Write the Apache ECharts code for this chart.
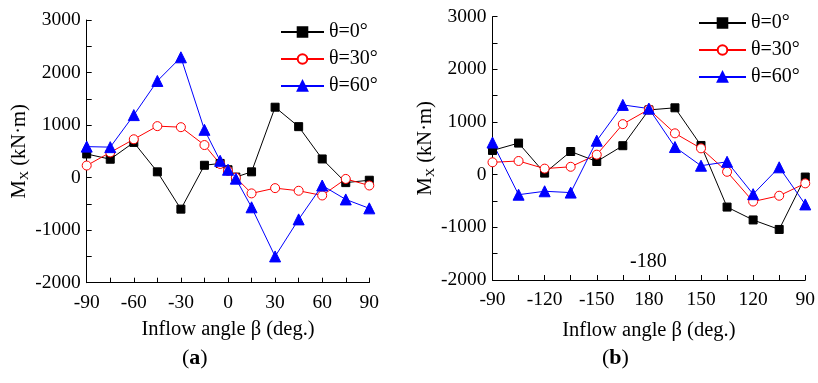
<!DOCTYPE html>
<html>
<head>
<meta charset="utf-8">
<script src="https://cdn.jsdelivr.net/npm/echarts@6/dist/echarts.min.js"></script>
<style>html,body{margin:0;padding:0;background:#fff}#c{width:818px;height:383px}</style>
</head>
<body>
<div id="c"></div>
<script>
// Panel (a)
const betaA = [-90, -75, -60, -45, -30, -15, -5, 0, 5, 15, 30, 45, 60, 75, 90];
const mx0A  = [450, 350, 670, 110, -600, 235, 270, 150, 10, 110, 1340, 970, 355, -95, -50];
const mx30A = [230, 480, 730, 980, 960, 620, 260, 130, 0, -300, -200, -250, -340, -25, -150];
const mx60A = [590, 580, 1190, 1840, 2290, 910, 320, 150, -20, -565, -1500, -795, -150, -415, -585];
const xTicksA = [-90, -60, -30, 0, 30, 60, 90];

// Panel (b)
const betaB = ['-90', '-105', '-120', '-135', '-150', '-165', '180', '165', '150', '135', '120', '105', '90'];
const xTicksB = ['-90', '-120', '-150', '180', '150', '120', '90'];
const mx0B  = [460, 600, 30, 440, 250, 550, 1230, 1270, 555, -615, -860, -1040, -45];
const mx30B = [235, 260, 115, 150, 380, 960, 1240, 785, 500, 55, -510, -400, -165];
const mx60B = [610, -380, -315, -340, 645, 1325, 1255, 525, 170, 245, -370, 140, -565];

const yTicks = [-2000, -1000, 0, 1000, 2000, 3000];
const names = ['θ=0°', 'θ=30°', 'θ=60°'];

const FONT = '"Liberation Serif", "Times New Roman", serif';
const styles = [
  {color: '#000000', symbol: 'rect', symbolSize: 8, fill: '#000000'},
  {color: '#ff0000', symbol: 'circle', symbolSize: 9, fill: '#ffffff'},
  {color: '#0000ff', symbol: 'triangle', symbolSize: 11, fill: '#0000ff'}
];

function mkSeries(name, st, xi, data) {
  return {
    name: name, type: 'line', xAxisIndex: xi, yAxisIndex: xi,
    data: data, symbol: st.symbol, symbolSize: st.symbolSize,
    showAllSymbol: true, clip: false,
    lineStyle: {color: st.color, width: 1},
    itemStyle: {color: st.fill, borderColor: st.color, borderWidth: 1},
    emphasis: {disabled: true}, animation: false, z: 3
  };
}

function axisLine() {
  return {show: true, onZero: false, lineStyle: {color: '#000', width: 1}};
}
function axisTick(extra) {
  return Object.assign({show: true, inside: true, length: 5, lineStyle: {color: '#000'}}, extra || {});
}

function yAxis(gi, gap) {
  return {
    type: 'value', gridIndex: gi, min: -2000, max: 3000, interval: 500,
    axisLine: axisLine(), axisTick: axisTick(), splitLine: {show: false},
    name: 'M{sub|X} (kN·m)', nameLocation: 'middle', nameGap: gap,
    nameTextStyle: {fontFamily: FONT, fontSize: 20.5, color: '#000',
      rich: {sub: {fontFamily: FONT, fontSize: 13, color: '#000', padding: [10, 0, 0, 0]}}},
    axisLabel: {fontFamily: FONT, fontSize: 19.5, color: '#000', margin: 6,
      formatter: v => yTicks.indexOf(v) >= 0 ? String(v) : ''}
  };
}

const option = {
  backgroundColor: '#fff',
  animation: false,
  grid: [
    {left: 86.7, width: 282.6, top: 20, height: 262.7},
    {left: 492.5, width: 315.2, top: 16.7, height: 263.3}
  ],
  xAxis: [
    {
      type: 'value', gridIndex: 0, min: -90, max: 90, interval: 15,
      axisLine: axisLine(), axisTick: axisTick(), splitLine: {show: false},
      name: 'Inflow angle β (deg.)', nameLocation: 'middle', nameGap: 36,
      nameTextStyle: {fontFamily: FONT, fontSize: 20.5, color: '#000'},
      axisLabel: {fontFamily: FONT, fontSize: 19.5, color: '#000', margin: 10,
        formatter: v => xTicksA.indexOf(v) >= 0 ? String(v) : ''}
    },
    {
      type: 'category', gridIndex: 1, data: betaB, boundaryGap: false,
      axisLine: axisLine(), axisTick: axisTick({interval: 0}), splitLine: {show: false},
      name: 'Inflow angle β (deg.)', nameLocation: 'middle', nameGap: 40,
      nameTextStyle: {fontFamily: FONT, fontSize: 20.5, color: '#000'},
      axisLabel: {fontFamily: FONT, fontSize: 19.5, color: '#000', margin: 10, interval: 0,
        formatter: v => xTicksB.indexOf(v) >= 0 ? v : ''}
    }
  ],
  yAxis: [yAxis(0, 47), yAxis(1, 46)],
  legend: [
    {data: names, orient: 'vertical', left: 275, top: 17, itemWidth: 43, itemHeight: 12, itemGap: 7,
     textStyle: {fontFamily: FONT, fontSize: 20, color: '#000'}, selectedMode: false},
    {data: names, orient: 'vertical', left: 693, top: 8, itemWidth: 47, itemHeight: 12, itemGap: 7,
     textStyle: {fontFamily: FONT, fontSize: 20, color: '#000'}, selectedMode: false}
  ],
  graphic: [
    {type: 'text', left: 630, top: 252, style: {text: '-180', fontFamily: FONT, fontSize: 20, fill: '#000'}},
    {type: 'text', left: 182, top: 347, style: {text: '({b|a})', fontFamily: FONT, fontSize: 22, fill: '#000',
      rich: {b: {fontFamily: FONT, fontSize: 22, fontWeight: 'bold', fill: '#000'}}}},
    {type: 'text', left: 602, top: 347, style: {text: '({b|b})', fontFamily: FONT, fontSize: 22, fill: '#000',
      rich: {b: {fontFamily: FONT, fontSize: 22, fontWeight: 'bold', fill: '#000'}}}}
  ],
  series: [
    mkSeries(names[0], styles[0], 0, betaA.map((x, i) => [x, mx0A[i]])),
    mkSeries(names[1], styles[1], 0, betaA.map((x, i) => [x, mx30A[i]])),
    mkSeries(names[2], styles[2], 0, betaA.map((x, i) => [x, mx60A[i]])),
    mkSeries(names[0], styles[0], 1, mx0B),
    mkSeries(names[1], styles[1], 1, mx30B),
    mkSeries(names[2], styles[2], 1, mx60B)
  ]
};

const chart = echarts.init(document.getElementById('c'), null, {renderer: 'canvas'});
chart.setOption(option);
</script>
</body>
</html>
